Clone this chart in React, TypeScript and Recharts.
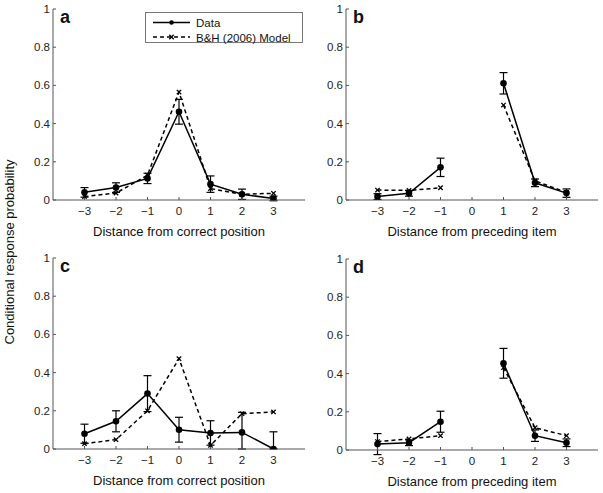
import React from "react";
import { LineChart, Line, XAxis, YAxis, ErrorBar, Legend } from "recharts";

const positions = [-3, -2, -1, 0, 1, 2, 3];
const xTicks = [-3, -2, -1, 0, 1, 2, 3];
const yTicks = [0, 0.2, 0.4, 0.6, 0.8, 1];

// a: correct position (data vs model)
const dataA = [0.04, 0.065, 0.113, 0.462, 0.083, 0.03, 0.008];
const errA = [0.025, 0.025, 0.027, 0.065, 0.043, 0.027, 0.012];
const modelA = [0.018, 0.036, 0.13, 0.565, 0.06, 0.03, 0.035];

// b: preceding item
const dataB = [0.018, 0.035, 0.171, null, 0.611, 0.09, 0.036];
const errB = [0.015, 0.015, 0.048, null, 0.056, 0.02, 0.022];
const modelB = [0.052, 0.05, 0.064, null, 0.497, 0.1, 0.04];

// c: correct position, second condition
const dataC = [0.08, 0.145, 0.29, 0.101, 0.084, 0.087, 0];
const errC = [
  [0.05, 0.05],
  [0.055, 0.055],
  [0.094, 0.094],
  [0.065, 0.065],
  [0.064, 0.064],
  [0.087, 0.105],
  [0, 0.09],
];
const modelC = [0.028, 0.049, 0.2, 0.473, 0.019, 0.185, 0.194];

// d: preceding item, second condition
const dataD = [0.031, 0.038, 0.148, null, 0.454, 0.075, 0.038];
const errD = [0.055, 0.015, 0.055, null, 0.078, 0.03, 0.02];
const modelD = [0.044, 0.058, 0.075, null, 0.431, 0.117, 0.075];

const FONT = "'Liberation Sans', Arial, Helvetica, sans-serif";
const AXIS = "#555";

function buildRows(data: any[], err: any[], model: any[]) {
  return positions.map((x, i) => ({ x, data: data[i], err: err[i], model: model[i] }));
}

function fmtX(v: number) {
  return v < 0 ? "\u2212" + Math.abs(v) : String(v);
}

function ModelMark(props: any) {
  const { cx, cy, value } = props;
  if (cx == null || cy == null || value == null) return <g />;
  const s = 2.2;
  return (
    <g stroke="#000" strokeWidth={1.3}>
      <line x1={cx - s} y1={cy - s} x2={cx + s} y2={cy + s} />
      <line x1={cx - s} y1={cy + s} x2={cx + s} y2={cy - s} />
    </g>
  );
}

function LegendBox() {
  return (
    <div style={{ width: 158, height: 31, border: "1px solid #777", background: "#fff", boxSizing: "border-box" }}>
      <svg width={156} height={29} style={{ display: "block", overflow: "visible" }}>
        <line x1={7} x2={44} y1={9.5} y2={9.5} stroke="#000" strokeWidth={1.5} />
        <circle cx={25.5} cy={9.5} r={2.3} fill="#000" />
        <text x={50} y={14} fontSize={11.5} fontFamily={FONT} fill="#111">Data</text>
        <line x1={7} x2={44} y1={24} y2={24} stroke="#000" strokeWidth={1.5} strokeDasharray="4 3" />
        <ModelMark cx={25.5} cy={24} value={1} />
        <text x={50} y={28.5} fontSize={11.5} fontFamily={FONT} fill="#111">B&amp;H (2006) Model</text>
      </svg>
    </div>
  );
}

interface PanelProps {
  rows: any[];
  letter: string;
  xLabel: string;
  left: number;
  top: number;
  showLegend?: boolean;
}

function Panel({ rows, letter, xLabel, left, top, showLegend }: PanelProps) {
  const tickStyle = { fontSize: 11.5, fontFamily: FONT, fill: "#222" };
  return (
    <div style={{ position: "absolute", left, top, width: 310, height: 240 }}>
      <LineChart width={310} height={240} data={rows} margin={{ top: 9, right: 5, bottom: 0, left: 23 }}>
        <XAxis
          dataKey="x"
          type="number"
          domain={[-4, 4]}
          ticks={xTicks}
          tickFormatter={fmtX}
          height={40}
          tickSize={-3}
          tickMargin={10}
          stroke={AXIS}
          tick={tickStyle}
          allowDataOverflow
          label={{ value: xLabel, position: "insideBottom", offset: 4, fontSize: 13, fontFamily: FONT, fill: "#111" }}
        />
        <XAxis
          xAxisId="top"
          dataKey="x"
          orientation="top"
          type="number"
          domain={[-4, 4]}
          ticks={xTicks}
          height={0}
          tick={false}
          tickSize={-3}
          stroke={AXIS}
          allowDataOverflow
        />
        <YAxis
          type="number"
          domain={[0, 1]}
          ticks={yTicks}
          tickFormatter={(v: number) => String(v)}
          width={30}
          tickSize={-3}
          tickMargin={6}
          stroke={AXIS}
          tick={tickStyle}
          allowDataOverflow
        />
        <YAxis
          yAxisId="right"
          orientation="right"
          type="number"
          domain={[0, 1]}
          ticks={yTicks}
          width={0}
          tick={false}
          tickSize={-3}
          stroke={AXIS}
          allowDataOverflow
        />
        <Line
          dataKey="model"
          stroke="#000"
          strokeWidth={1.5}
          strokeDasharray="4 3"
          dot={<ModelMark />}
          isAnimationActive={false}
        />
        <Line
          dataKey="data"
          stroke="#000"
          strokeWidth={1.5}
          dot={{ r: 3.3, fill: "#000", stroke: "#000", strokeWidth: 0 }}
          isAnimationActive={false}
        >
          <ErrorBar dataKey="err" direction="y" width={4} stroke="#000" strokeWidth={1.2} />
        </Line>
        {showLegend && (
          <Legend
            layout="vertical"
            align="center"
            verticalAlign="middle"
            wrapperStyle={{ left: 145, top: 12, width: 158, height: 31 }}
            content={() => <LegendBox />}
          />
        )}
      </LineChart>
      <div
        style={{
          position: "absolute",
          left: 60,
          top: 7,
          fontFamily: FONT,
          fontWeight: "bold",
          fontSize: 18,
          color: "#111",
          pointerEvents: "none",
        }}
      >
        {letter}
      </div>
    </div>
  );
}

export default function App() {
  return (
    <div style={{ position: "absolute", left: 0, top: 0, width: 603, height: 493, background: "#fff" }}>
      <Panel rows={buildRows(dataA, errA, modelA)} letter="a" xLabel="Distance from correct position" left={0} top={0} showLegend />
      <Panel rows={buildRows(dataB, errB, modelB)} letter="b" xLabel="Distance from preceding item" left={293} top={0} />
      <Panel rows={buildRows(dataC, errC, modelC)} letter="c" xLabel="Distance from correct position" left={0} top={249} />
      <Panel rows={buildRows(dataD, errD, modelD)} letter="d" xLabel="Distance from preceding item" left={293} top={250} />
      <svg width={22} height={493} style={{ position: "absolute", left: 0, top: 0 }}>
        <text
          transform="rotate(-90)"
          x={-252}
          y={14}
          textAnchor="middle"
          fontSize={13}
          fontFamily={FONT}
          fill="#111"
        >
          Conditional response probability
        </text>
      </svg>
    </div>
  );
}
